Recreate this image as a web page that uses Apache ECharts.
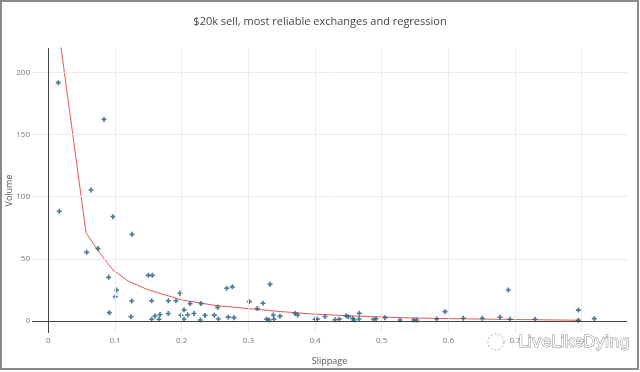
<!DOCTYPE html>
<html>
<head>
<meta charset="utf-8">
<script src="https://cdn.jsdelivr.net/npm/echarts@6/dist/echarts.min.js"></script>
<style>
html,body{margin:0;padding:0;background:#fff;}
#chart{width:640px;height:372px;}
</style>
</head>
<body>
<div id="chart"></div>
<script>
// Scatter data: [slippage, volume]
const points = [
  [0.015,191.6],[0.0165,88.2],[0.0575,55.2],[0.064,105.3],[0.0745,58.2],[0.0835,162],
  [0.0905,35.1],[0.0915,6.7],[0.097,83.9],[0.1005,19.6],[0.1025,24.9],[0.124,3.5],
  [0.125,16.1],[0.1255,69.7],[0.15,36.7],[0.156,36.7],[0.155,16.3],[0.155,1.4],
  [0.16,4],[0.166,1.4],[0.1675,5.2],[0.18,16.3],[0.18,6],[0.1915,16.3],[0.1975,22.3],
  [0.199,4.6],[0.2035,9],[0.2035,1.4],[0.209,5],[0.2125,14],[0.2185,6],[0.228,0.8],
  [0.229,14],[0.235,4.5],[0.249,4.7],[0.254,11],[0.255,1.6],[0.2675,26.3],[0.27,3.1],
  [0.276,27.5],[0.2785,2.7],[0.3015,15.6],[0.3135,10],[0.322,14.3],[0.3275,1.5],
  [0.331,0.8],[0.3325,29.5],[0.3375,4.8],[0.3385,1.4],[0.3475,3.9],[0.37,6],[0.374,4.8],
  [0.4,1.4],[0.4035,1.5],[0.415,3.6],[0.43,1],[0.4365,1.5],[0.4465,4.2],[0.45,3.5],
  [0.4565,2],[0.4585,0.8],[0.466,1.6],[0.4665,6.2],[0.4875,1.2],[0.4915,1.8],[0.505,2.7],
  [0.5275,0.8],[0.548,0.8],[0.5525,0.8],[0.5825,1.6],[0.595,7.5],[0.6225,2.2],[0.651,2.2],
  [0.6775,3],[0.69,24.9],[0.6925,1.4],[0.73,1.4],[0.795,8.8],[0.795,0.6],[0.819,1.9]
];
// Regression curve
const regX = [0.015,0.0565,0.078,0.097,0.12,0.15,0.2,0.25,0.3,0.35,0.4,0.45,0.5,0.55,0.6,0.7,0.8];
const regY = [236,71,54,41,32,25,17,12.5,10,7.5,5.5,4.2,3.2,2.4,1.9,1.2,0.6];
const xTicks = [0,0.1,0.2,0.3,0.4,0.5,0.6,0.7,0.8];
const yTicks = [0,50,100,150,200];

const FONT = '"Open Sans", "Noto Sans", sans-serif';
const regData = regX.map((x,i)=>[x,regY[i]]);

const chart = echarts.init(document.getElementById('chart'), null, {renderer:'canvas'});
chart.setOption({
  animation:false,
  backgroundColor:'#fff',
  title:{
    text:'$20k sell, most reliable exchanges and regression',
    left:'center', top:11,
    textStyle:{fontFamily:FONT,fontSize:11,fontWeight:'normal',color:'#444'}
  },
  grid:{left:32,right:13,top:48,bottom:39,containLabel:false,outerBoundsMode:'none'},
  xAxis:{
    type:'value', min:-0.0245, max:0.868,
    name:'Slippage', nameLocation:'middle', nameGap:24, nameMoveOverlap:false,
    nameTextStyle:{fontFamily:FONT,fontSize:9,color:'#555'},
    axisLine:{show:false}, axisTick:{show:false}, splitLine:{show:false},
    axisLabel:{customValues:xTicks, fontFamily:FONT, fontSize:8, color:'#777', margin:4,
      formatter:v=>String(v)}
  },
  yAxis:{
    type:'value', min:-9.65, max:219.5,
    name:'Volume', nameLocation:'middle', nameGap:18, nameMoveOverlap:false,
    nameTextStyle:{fontFamily:FONT,fontSize:9,color:'#555'},
    axisLine:{show:false}, axisTick:{show:false}, splitLine:{show:false},
    axisLabel:{customValues:yTicks, fontFamily:FONT, fontSize:8, color:'#777', margin:2,
      formatter:v=>String(v)}
  },
  graphic:[
    {type:'rect', shape:{x:1,y:1,width:637,height:368}, style:{fill:'none',stroke:'#8a8a8a',lineWidth:2}, silent:true, z:100},
    {type:'text', left:518, top:334, style:{text:'LiveLikeDying', fontFamily:'"DejaVu Sans", sans-serif', fontSize:16, fill:'#ffffff', stroke:'#8a8a8a', lineWidth:1}, z:100},
    {type:'circle', shape:{cx:496,cy:342,r:8}, style:{fill:'rgba(255,255,255,0.8)',stroke:'#aaa',lineWidth:1,lineDash:[2,2]}, z:100}
  ],
  series:[
    {
      type:'scatter', data:[], silent:true, z:1,
      markLine:{
        silent:true, symbol:'none', label:{show:false},
        lineStyle:{color:'#efe8ef', width:1, type:'solid'},
        data: xTicks.filter(v=>v!==0).map(v=>({xAxis:v}))
          .concat(yTicks.filter(v=>v!==0).map(v=>({yAxis:v})))
      }
    },
    {
      type:'scatter', data:[], silent:true, z:2,
      markLine:{
        silent:true, symbol:'none', label:{show:false},
        lineStyle:{color:'#444', width:1, type:'solid'},
        data:[{xAxis:0},{yAxis:0}]
      }
    },
    {
      type:'scatter', data:points, z:4,
      symbol:'path://M2,0H4V2H6V4H4V6H2V4H0V2H2Z', symbolSize:5,
      itemStyle:{color:'#1f5a7c'}
    },
    {
      type:'line', data:regData, z:3, showSymbol:false, symbol:'none',
      lineStyle:{color:'#e35a55', width:1},
      clip:true
    }
  ]
});
</script>
</body>
</html>
